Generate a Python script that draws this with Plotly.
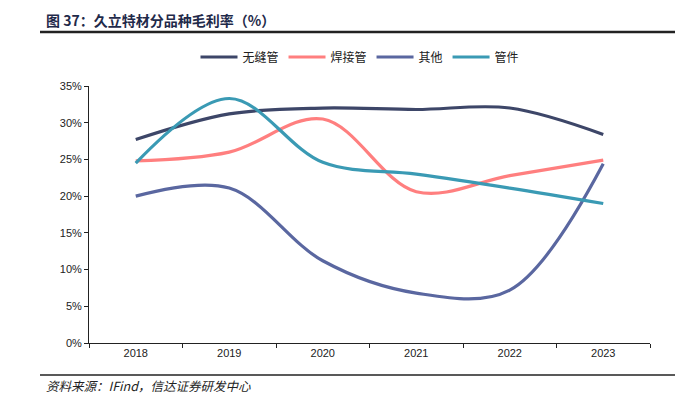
import plotly.graph_objects as go

years = ["2018", "2019", "2020", "2021", "2022", "2023"]
seamless = [27.7, 31.2, 32.0, 31.8, 32.0, 28.4]
welded = [24.8, 26.0, 30.5, 20.6, 22.8, 24.9]
other = [20.0, 21.1, 11.2, 6.8, 7.2, 24.4]
fittings = [24.5, 33.3, 24.6, 23.0, 21.1, 19.0]
yticks = [0, 5, 10, 15, 20, 25, 30, 35]

series = [
    ("无缝管", seamless, "#3D4668"),
    ("焊接管", welded, "#FF7F7F"),
    ("其他", other, "#5A67A0"),
    ("管件", fittings, "#3A9AB4"),
]

OFF = 8  # page body margin
W, H = 683 - OFF, 407 - OFF
L, T = 89 - OFF, 86 - OFF
PW, PH = 561, 257
R, B = W - L - PW, H - T - PH


def px(x):
    return (x - OFF - L) / PW


def py(y):
    return (T + PH - (y - OFF)) / PH


fig = go.Figure()
for name, vals, col in series:
    fig.add_trace(go.Scatter(
        x=years, y=vals, name=name, mode="lines",
        line=dict(color=col, width=3.2, shape="spline", smoothing=1.0),
    ))

fig.update_layout(
    width=W, height=H,
    margin=dict(l=L, r=R, t=T, b=B, autoexpand=False),
    paper_bgcolor="white", plot_bgcolor="white",
    font=dict(family="Liberation Sans, Arial, sans-serif", size=11, color="#222"),
    showlegend=True,
    legend=dict(orientation="h", x=px(360), xanchor="center", y=py(57), yanchor="middle",
                bgcolor="rgba(0,0,0,0)",
                font=dict(family="Noto Sans CJK SC", size=12, color="#222"),
                itemwidth=37, tracegroupgap=0),
    xaxis=dict(type="category", range=[-0.5, 5.5], showline=True, linecolor="#222",
               linewidth=1, ticks="outside", tickson="boundaries", ticklen=4,
               tickcolor="#222", showgrid=False, tickfont=dict(size=11, color="#222")),
    yaxis=dict(range=[0, 35], tickvals=yticks, ticktext=[f"{v}%" for v in yticks],
               showline=True, linecolor="#222", linewidth=1, ticks="outside",
               ticklen=4, tickcolor="#222", showgrid=False, zeroline=False,
               tickfont=dict(size=11, color="#222")),
)

fig.add_annotation(text="<b>图 37：久立特材分品种毛利率（%）</b>", xref="paper", yref="paper",
                   x=px(44), y=py(20), xanchor="left", yanchor="middle", showarrow=False,
                   font=dict(family="Noto Sans CJK SC", size=14, color="#1F2A4A"))
fig.add_shape(type="line", xref="paper", yref="paper",
              x0=px(40), x1=px(683), y0=py(32), y1=py(32),
              line=dict(color="#222", width=2.5))
fig.add_shape(type="line", xref="paper", yref="paper",
              x0=px(40), x1=px(683), y0=py(375), y1=py(375),
              line=dict(color="#222", width=1.5))
fig.add_annotation(text="<i>资料来源：IFind，信达证券研发中心</i>", xref="paper", yref="paper",
                   x=px(44), y=py(385), xanchor="left", yanchor="middle", showarrow=False,
                   font=dict(family="Noto Sans CJK SC", size=12.5, color="#222"))

fig.write_html("out.html")
